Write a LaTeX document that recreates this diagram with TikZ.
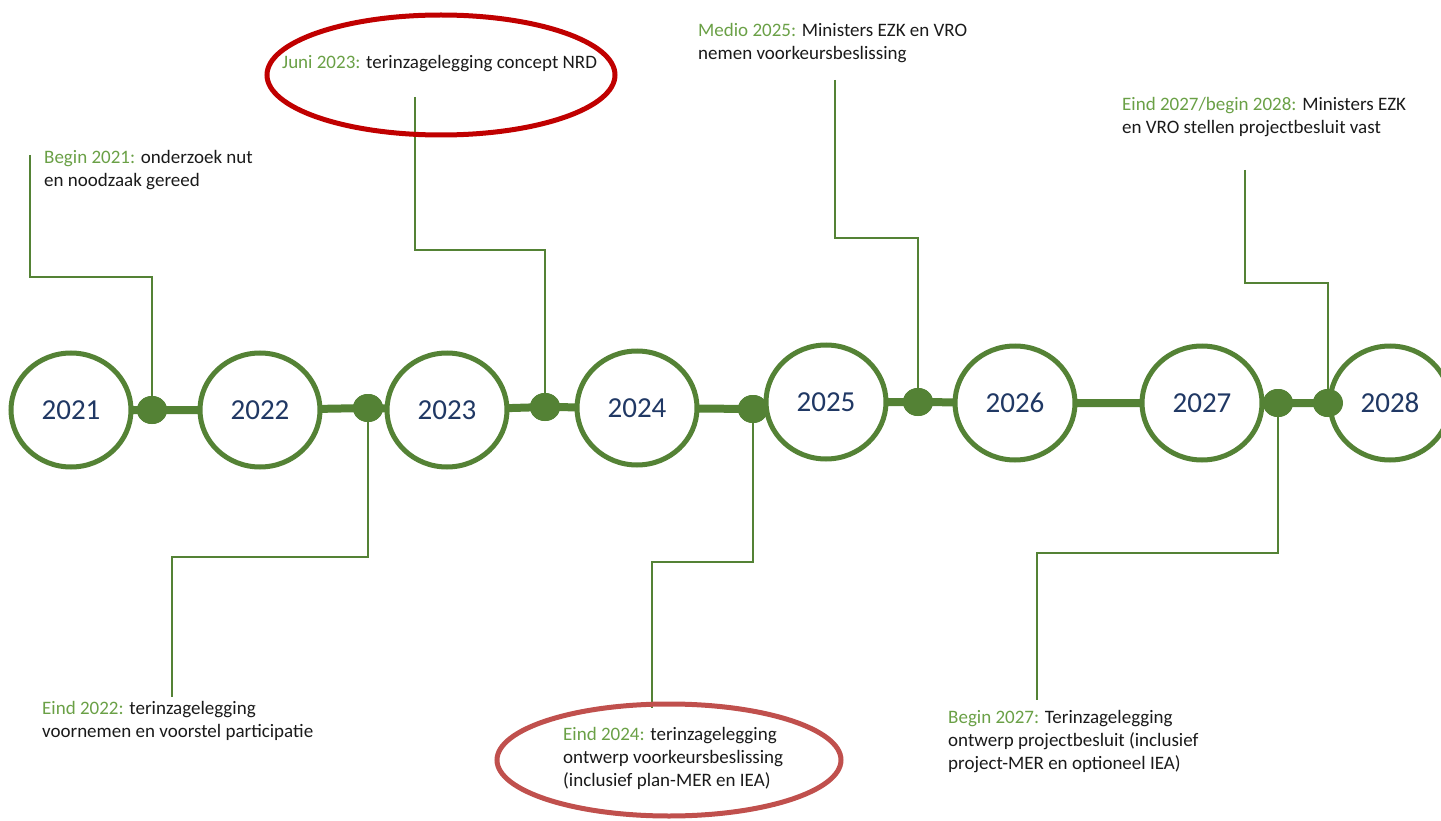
\documentclass[tikz,border=0pt]{standalone}
\usepackage{fontspec}
\setmainfont{Carlito}
\usetikzlibrary{shapes.geometric}
\definecolor{lgreen}{HTML}{548235}
\definecolor{tgreen}{HTML}{6AA046}
\definecolor{yblue}{HTML}{203864}
\definecolor{txt}{HTML}{1A1A1A}
\definecolor{redA}{HTML}{C00000}
\definecolor{redB}{HTML}{C0504D}
\tikzset{
  year/.style={ellipse, draw=lgreen, line width=5pt, fill=white, minimum width=120pt, minimum height=114pt, inner sep=0pt, text=yblue, font=\fontsize{29}{32}\selectfont},
  dotn/.style={ellipse, fill=lgreen, minimum width=30pt, minimum height=28pt, inner sep=0pt},
  bar/.style={draw=lgreen, line width=8pt},
  conn/.style={draw=lgreen, line width=2pt},
  lbl/.style={anchor=north west, align=left, inner sep=0pt, text=txt, font=\fontsize{19}{23}\selectfont},
  redring/.style={ellipse, line width=5pt, inner sep=0pt},
}
\newcommand{\yr}[1]{\textcolor{tgreen}{#1}}
\begin{document}
\begin{tikzpicture}[x=1pt,y=-1pt]
\useasboundingbox (0,0) rectangle (1441,821);
% dots
\node[dotn] (d1) at (152,410) {};
\node[dotn] (d2) at (368,408) {};
\node[dotn] (d3) at (545,407) {};
\node[dotn] (d4) at (753,409) {};
\node[dotn] (d5) at (918,402) {};
\node[dotn] (d6) at (1278,403) {};
\node[dotn] (d7) at (1328,403) {};
% bar
\draw[bar] (71,410) -- (152,410) -- (260,410) -- (368,408) -- (447,410) -- (545,407) -- (637,408) -- (753,409) -- (826,402) -- (918,402) -- (1015,403) -- (1202,403) -- (1278,403) -- (1328,403) -- (1390,403);
% year circles
\node[year] (y21) at (71,410) {2021};
\node[year] (y22) at (260,410) {2022};
\node[year] (y23) at (447,410) {2023};
\node[year] (y24) at (637,408) {2024};
\node[year] (y25) at (826,402) {2025};
\node[year] (y26) at (1015,403) {2026};
\node[year] (y27) at (1202,403) {2027};
\node[year] (y28) at (1390,403) {2028};
% redraw dots on top
\node[dotn] at (d1) {};
\node[dotn] at (d2) {};
\node[dotn] at (d3) {};
\node[dotn] at (d4) {};
\node[dotn] at (d5) {};
\node[dotn] at (d6) {};
\node[dotn] at (d7) {};
% connectors top
\coordinate (c1) at (30,155);  \coordinate (b1) at (30,277);
\draw[conn] (c1) -- (b1) -| (d1);
\coordinate (c3) at (415,97);  \coordinate (b3) at (415,250);
\draw[conn] (c3) -- (b3) -| (d3);
\coordinate (c5) at (835,80);  \coordinate (b5) at (835,238);
\draw[conn] (c5) -- (b5) -| (d5);
\coordinate (c7) at (1245,170); \coordinate (b7) at (1245,283);
\draw[conn] (c7) -- (b7) -| (d7);
% connectors bottom
\coordinate (c2) at (172,697); \coordinate (b2) at (172,557);
\draw[conn] (d2) |- (b2) -- (c2);
\coordinate (c4) at (652,708); \coordinate (b4) at (652,562);
\draw[conn] (d4) |- (b4) -- (c4);
\coordinate (c6) at (1037,700); \coordinate (b6) at (1037,553);
\draw[conn] (d6) |- (b6) -- (c6);
% labels
\node[lbl] (t1) at (44,150) {\yr{Begin 2021:} onderzoek nut\\en noodzaak gereed};
\node[lbl] (t3) at (282,55) {\yr{Juni 2023:} terinzagelegging concept NRD};
\node[lbl] (t5) at (698,23) {\yr{Medio 2025:} Ministers EZK en VRO\\nemen voorkeursbeslissing};
\node[lbl] (t7) at (1122,97) {\yr{Eind 2027/begin 2028:} Ministers EZK\\en VRO stellen projectbesluit vast};
\node[lbl] (t2) at (42,701) {\yr{Eind 2022:} terinzagelegging\\voornemen en voorstel participatie};
\node[lbl] (t4) at (563,727) {\yr{Eind 2024:} terinzagelegging\\ontwerp voorkeursbeslissing\\(inclusief plan-MER en IEA)};
\node[lbl] (t6) at (948,710) {\yr{Begin 2027:} Terinzagelegging\\ontwerp projectbesluit (inclusief\\project-MER en optioneel IEA)};
% red rings
\node[redring, draw=redA, minimum width=348pt, minimum height=120pt] (r1) at (441,75) {};
\node[redring, draw=redB, minimum width=344pt, minimum height=112pt] (r2) at (669,760) {};
\end{tikzpicture}
\end{document}
